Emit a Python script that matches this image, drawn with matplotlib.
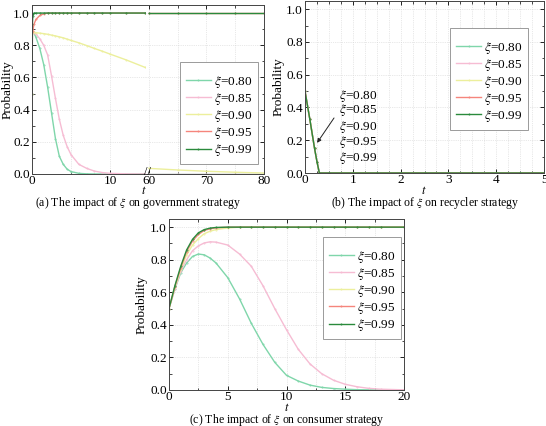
import numpy as np
import matplotlib
matplotlib.use('Agg')
import matplotlib.pyplot as plt
from matplotlib.ticker import MultipleLocator

plt.rcParams['font.family'] = ['Liberation Serif', 'DejaVu Serif']
plt.rcParams['mathtext.fontset'] = 'stix'
plt.rcParams['font.size'] = 9.5

labels = [r'$\xi$=0.80', r'$\xi$=0.85', r'$\xi$=0.90', r'$\xi$=0.95', r'$\xi$=0.99']
colors = ['#7fd6aa', '#f6bcd3', '#ecef9c', '#f5857c', '#2a8a3c']

# (a) government strategy, left part (t = 0..14.5)
t_gov = [0, 0.05, 0.1, 0.25, 0.5, 1, 1.5, 2, 2.5, 3, 3.5, 4, 4.5, 5, 6, 7, 8, 9, 10, 12, 14.5]
gov_080 = [0.5, 0.88, 0.88, 0.875, 0.85, 0.78, 0.68, 0.54, 0.38, 0.22, 0.11, 0.06, 0.03, 0.015, 0.004, 0.001, 0, 0, 0, 0, 0]
gov_085 = [0.5, 0.88, 0.88, 0.878, 0.87, 0.84, 0.80, 0.74, 0.61, 0.47, 0.34, 0.24, 0.17, 0.12, 0.06, 0.035, 0.018, 0.009, 0.004, 0.001, 0]
gov_090 = [0.5, 0.88, 0.88, 0.88, 0.878, 0.875, 0.872, 0.868, 0.863, 0.858, 0.852, 0.846, 0.838, 0.83, 0.815, 0.798, 0.78, 0.763, 0.745, 0.71, 0.662]
gov_095 = [0.5, 0.88, 0.89, 0.93, 0.96, 0.985, 0.995, 1.0, 1.0, 1.0, 1.0, 1.0, 1.0, 1.0, 1.0, 1.0, 1.0, 1.0, 1.0, 1.0, 1.0]
gov_099 = [0.5, 0.93, 0.98, 1.0, 1.0, 1.0, 1.0, 1.0, 1.0, 1.0, 1.0, 1.0, 1.0, 1.0, 1.0, 1.0, 1.0, 1.0, 1.0, 1.0, 1.0]
# (a) right part (t = 60..80)
t_gov2 = [60, 65, 70, 75, 80]
gov2_080 = [0, 0, 0, 0, 0]
gov2_085 = [0, 0, 0, 0, 0]
gov2_090 = [0.035, 0.025, 0.017, 0.011, 0.006]
gov2_095 = [1, 1, 1, 1, 1]
gov2_099 = [1, 1, 1, 1, 1]

# (b) recycler strategy
t_rec = [0, 0.1, 0.2, 0.25, 0.3, 0.5, 1, 1.5, 2, 2.5, 3, 3.5, 4, 4.5, 5]
rec_080 = [0.5, 0.33, 0.15, 0.07, 0.0, 0, 0, 0, 0, 0, 0, 0, 0, 0, 0]
rec_085 = [0.5, 0.33, 0.15, 0.07, 0.0, 0, 0, 0, 0, 0, 0, 0, 0, 0, 0]
rec_090 = [0.5, 0.33, 0.15, 0.07, 0.0, 0, 0, 0, 0, 0, 0, 0, 0, 0, 0]
rec_095 = [0.5, 0.33, 0.15, 0.07, 0.0, 0, 0, 0, 0, 0, 0, 0, 0, 0, 0]
rec_099 = [0.5, 0.33, 0.15, 0.07, 0.0, 0, 0, 0, 0, 0, 0, 0, 0, 0, 0]
# stacked labels next to the curve in (b)
note_t = 0.71
note_y = [0.473, 0.382, 0.279, 0.188, 0.091]

# (c) consumer strategy
t_con = [0, 0.5, 1, 1.5, 2, 2.5, 3, 3.5, 4, 5, 6, 7, 8, 9, 10, 11, 12, 13, 14, 15, 16, 17, 18, 20]
con_080 = [0.5, 0.62, 0.72, 0.78, 0.82, 0.835, 0.83, 0.81, 0.78, 0.69, 0.56, 0.41, 0.28, 0.17, 0.09, 0.055, 0.03, 0.016, 0.009, 0.005, 0.002, 0.001, 0, 0]
con_085 = [0.5, 0.62, 0.73, 0.80, 0.855, 0.885, 0.903, 0.91, 0.908, 0.89, 0.835, 0.76, 0.64, 0.50, 0.37, 0.25, 0.16, 0.10, 0.06, 0.035, 0.02, 0.01, 0.005, 0.001]
con_090 = [0.5, 0.63, 0.74, 0.83, 0.89, 0.93, 0.96, 0.975, 0.985, 0.995, 1, 1, 1, 1, 1, 1, 1, 1, 1, 1, 1, 1, 1, 1]
con_095 = [0.5, 0.635, 0.75, 0.85, 0.915, 0.955, 0.98, 0.99, 0.996, 1, 1, 1, 1, 1, 1, 1, 1, 1, 1, 1, 1, 1, 1, 1]
con_099 = [0.5, 0.64, 0.76, 0.86, 0.925, 0.965, 0.985, 0.994, 0.998, 1, 1, 1, 1, 1, 1, 1, 1, 1, 1, 1, 1, 1, 1, 1]

W, H = 546, 426
fig = plt.figure(figsize=(W / 100, H / 100), dpi=100)
FS = 9.5
TFS = 8.5


def box(x0, y0, x1, y1):
    return [x0 / W, 1 - y1 / H, (x1 - x0) / W, (y1 - y0) / H]


def style(ax, xmaj, xmin):
    ax.set_ylim(0, 1.05)
    ax.yaxis.set_major_locator(MultipleLocator(0.2))
    ax.yaxis.set_minor_locator(MultipleLocator(0.1))
    ax.xaxis.set_major_locator(MultipleLocator(xmaj))
    ax.xaxis.set_minor_locator(MultipleLocator(xmin))
    ax.tick_params(which='both', direction='in', top=True, right=True, labelsize=FS, pad=1.5)
    ax.tick_params(axis='x', pad=1)
    ax.tick_params(which='major', length=3, width=0.6)
    ax.tick_params(which='minor', length=1.8, width=0.5)
    ax.grid(True, axis='x', which='both', ls=':', lw=0.5, color='#d2d2d2')
    ax.grid(True, axis='y', which='major', ls=':', lw=0.5, color='#d2d2d2')
    for s in ax.spines.values():
        s.set_linewidth(0.7)
        s.set_color('#444444')


def draw(ax, t, series):
    lines = []
    for y, c, lab in zip(series, colors, labels):
        ln, = ax.plot(t, y, color=c, lw=1.0, marker='.', ms=0.8, label=lab)
        lines.append(ln)
    return lines


def legend(ax, handles, anchor):
    leg = ax.legend(handles=handles, loc='upper left', bbox_to_anchor=anchor, title=' ',
                    fontsize=FS, title_fontsize=4, frameon=True, fancybox=False,
                    edgecolor='#9a9a9a', framealpha=1, handlelength=1.9,
                    handletextpad=0.25, labelspacing=0.08, borderpad=0.45,
                    borderaxespad=0)
    leg.get_frame().set_linewidth(0.7)
    return leg


def ylab(ax, x_px, x0_px, w_px):
    # x_px is the right edge of the rotated label
    ax.set_ylabel('Probability', fontsize=FS)
    ax.yaxis.set_label_coords((x_px - x0_px) / w_px, 0.5)


# ---- (a)
axL = fig.add_axes(box(32, 5, 146, 174))
axR = fig.add_axes(box(146, 5, 264, 174))
style(axL, 10, 5)
style(axR, 10, 5)
hA = draw(axL, t_gov, [gov_080, gov_085, gov_090, gov_095, gov_099])
draw(axR, t_gov2, [gov2_080, gov2_085, gov2_090, gov2_095, gov2_099])
axL.set_xlim(0, 14.6)
axR.set_xlim(59.5, 80)
axL.spines['right'].set_visible(False)
axR.spines['left'].set_visible(False)
axL.tick_params(which='both', right=False)
axR.tick_params(which='both', left=False, labelleft=False)
ylab(axL, 14, 32, 114)
legend(axR, hA, (0.288, 0.663))
fig.text(147 / W, 1 - 172 / H, '//', fontsize=9, ha='center', va='center')
fig.text(144 / W, 1 - 191 / H, '$t$', fontsize=9, ha='center', va='center')
fig.text(138 / W, 1 - 203 / H, r'(a) The impact of $\xi$ on government strategy',
         fontsize=TFS, ha='center', va='center')

# ---- (b)
axB = fig.add_axes(box(305, 1, 544, 173))
style(axB, 1, 0.25)
hB = draw(axB, t_rec, [rec_080, rec_085, rec_090, rec_095, rec_099])
axB.set_xlim(0, 5)
ylab(axB, 285, 305, 239)
fig.text(424 / W, 1 - 191 / H, '$t$', fontsize=9, ha='center', va='center')
legend(axB, hB, (0.607, 0.844))
for lab, yv in zip(labels, note_y):
    axB.text(note_t, yv, lab, fontsize=FS, ha='left', va='center')
axB.annotate('', xy=(0.22, 0.17), xytext=(0.64, 0.35),
             arrowprops=dict(arrowstyle='-|>', color='#222222', lw=0.7, mutation_scale=6))
fig.text(425 / W, 1 - 203 / H, r'(b) The impact of $\xi$ on recycler strategy',
         fontsize=TFS, ha='center', va='center')

# ---- (c)
axC = fig.add_axes(box(169, 219, 404, 390))
style(axC, 5, 2.5)
hC = draw(axC, t_con, [con_080, con_085, con_090, con_095, con_099])
axC.set_xlim(0, 20)
ylab(axC, 148, 169, 235)
fig.text(287 / W, 1 - 408 / H, '$t$', fontsize=9, ha='center', va='center')
legend(axC, hC, (0.655, 0.895))
fig.text(287 / W, 1 - 419.5 / H, r'(c) The impact of $\xi$ on consumer strategy',
         fontsize=TFS, ha='center', va='center')

fig.savefig('out.png', dpi=100)
